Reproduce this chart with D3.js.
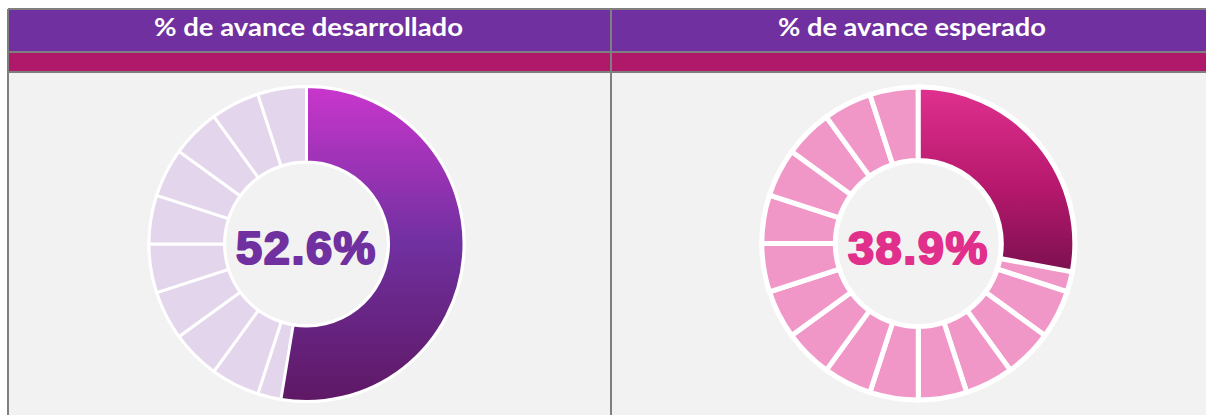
<!DOCTYPE html>
<html>
<head>
<meta charset="utf-8">
<script src="https://cdn.jsdelivr.net/npm/d3@7/dist/d3.min.js"></script>
<style>
  html, body { margin: 0; padding: 0; background: #ffffff; }
  svg { display: block; }
</style>
</head>
<body>
<svg id="chart" width="1206" height="415"></svg>
<script>
// ---- data ----
const panelTitles = ["% de avance desarrollado", "% de avance esperado"];
const centerLabels = ["52.6%", "38.9%"];
const progressShare = [0.526, 0.279];
const ringSegments = [1, 1, 1, 1, 1, 1, 1, 1, 1, 1, 1, 1, 1, 1, 1, 1, 1, 1, 1, 1];

// ---- styles ----
const W = 1206, H = 415;
const svg = d3.select("#chart");
const border = "#7f7f7f";
const headerPurple = "#7030a0";
const bandMagenta = "#b0186a";
const bodyGray = "#f2f2f2";

const tableLeft = 8, tableTop = 9, divider = 611, tableRight = 1212;
const headerBottom = 52, bandBottom = 72;

// backgrounds
svg.append("rect").attr("x", 0).attr("y", 0).attr("width", W).attr("height", H).attr("fill", "#ffffff");
svg.append("rect").attr("x", tableLeft).attr("y", tableTop).attr("width", tableRight - tableLeft).attr("height", headerBottom - tableTop).attr("fill", headerPurple);
svg.append("rect").attr("x", tableLeft).attr("y", headerBottom).attr("width", tableRight - tableLeft).attr("height", bandBottom - headerBottom).attr("fill", bandMagenta);
svg.append("rect").attr("x", tableLeft).attr("y", bandBottom).attr("width", tableRight - tableLeft).attr("height", H - bandBottom).attr("fill", bodyGray);

// grid lines
const lines = [
  [tableLeft, tableTop, tableRight, tableTop],
  [tableLeft, headerBottom, tableRight, headerBottom],
  [tableLeft, bandBottom, tableRight, bandBottom],
  [tableLeft, tableTop, tableLeft, H],
  [divider, tableTop, divider, H]
];
svg.selectAll("line.grid").data(lines).enter().append("line")
  .attr("class", "grid")
  .attr("x1", d => d[0]).attr("y1", d => d[1]).attr("x2", d => d[2]).attr("y2", d => d[3])
  .attr("stroke", border).attr("stroke-width", 2);

// titles
const titleCenters = [308.5, 912];
const titleWidths = [309, 268];
svg.selectAll("text.title").data(panelTitles).enter().append("text")
  .attr("class", "title")
  .attr("x", (d, i) => titleCenters[i])
  .attr("y", 35.5)
  .attr("text-anchor", "middle")
  .attr("fill", "#ffffff")
  .attr("font-family", "Lato, 'Open Sans', sans-serif")
  .attr("font-weight", 700)
  .attr("font-size", 24)
  .attr("textLength", (d, i) => titleWidths[i])
  .attr("lengthAdjust", "spacingAndGlyphs")
  .text(d => d);

// gradients
const defs = svg.append("defs");
const gradStops = [
  [["0%", "#c936cc"], ["50%", "#7030a0"], ["100%", "#5e1864"]],
  [["0%", "#e0308f"], ["55%", "#b5186c"], ["100%", "#7c1050"]]
];
gradStops.forEach((stops, i) => {
  const g = defs.append("linearGradient").attr("id", "grad" + i)
    .attr("x1", 0).attr("y1", 0).attr("x2", 0).attr("y2", 1);
  stops.forEach(s => g.append("stop").attr("offset", s[0]).attr("stop-color", s[1]));
});

const donuts = [
  { cx: 306.5, cy: 244, rOuter: 157.5, rInner: 82, light: "#e3d5ec", gap: 3, text: "#7030a0" },
  { cx: 918.3, cy: 243.5, rOuter: 156.5, rInner: 83, light: "#f097c8", gap: 5, text: "#e0308c" }
];

const pie = d3.pie().sort(null).value(d => d);
const angle = d3.scaleLinear().domain([0, 1]).range([0, 2 * Math.PI]);

donuts.forEach((cfg, i) => {
  const g = svg.append("g").attr("transform", `translate(${cfg.cx},${cfg.cy})`);
  const arc = d3.arc().innerRadius(cfg.rInner).outerRadius(cfg.rOuter);

  // white base ring
  g.append("circle").attr("r", cfg.rOuter + 1.5).attr("fill", "#ffffff");
  g.append("circle").attr("r", cfg.rInner - 1.5).attr("fill", bodyGray);

  // light segments
  g.selectAll("path.seg").data(pie(ringSegments)).enter().append("path")
    .attr("class", "seg")
    .attr("d", arc)
    .attr("fill", cfg.light)
    .attr("stroke", "#ffffff")
    .attr("stroke-width", cfg.gap)
    .attr("stroke-linejoin", "miter");

  // progress arc
  g.append("path")
    .attr("d", arc({ startAngle: angle(0), endAngle: angle(progressShare[i]) }))
    .attr("fill", `url(#grad${i})`)
    .attr("stroke", "#ffffff")
    .attr("stroke-width", cfg.gap);

  // center label
  g.append("text")
    .attr("x", 0)
    .attr("y", 20)
    .attr("text-anchor", "middle")
    .attr("fill", cfg.text)
    .attr("stroke", cfg.text)
    .attr("stroke-width", 2.2)
    .attr("stroke-linejoin", "round")
    .attr("letter-spacing", 1.5)
    .attr("font-family", "'Liberation Sans', Arial, sans-serif")
    .attr("font-weight", 700)
    .attr("font-size", 47)
    .text(centerLabels[i]);
});
</script>
</body>
</html>
